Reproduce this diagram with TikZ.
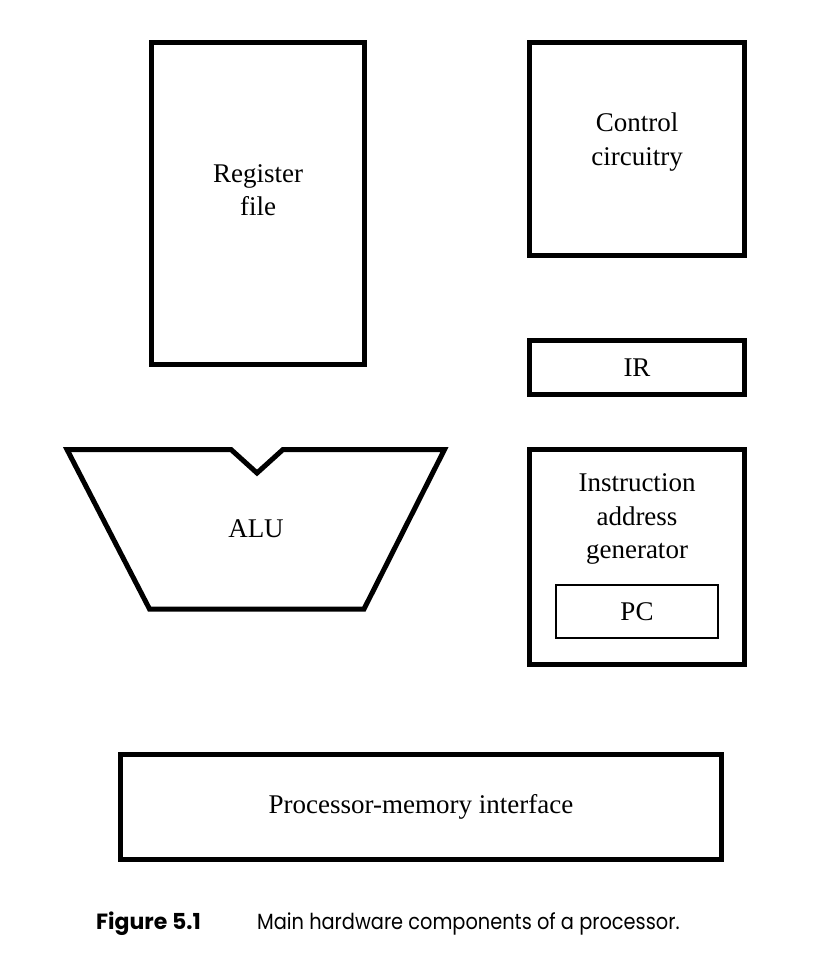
\documentclass[tikz,border=0pt]{standalone}
\usepackage{fontspec}
\setmainfont{Liberation Serif}
\newfontfamily\capfont[FakeStretch=0.88]{Poppins}
\newfontfamily\capboldfont{Poppins}
\begin{document}
\begin{tikzpicture}[x=1pt,y=-1pt,
  txt/.style={font=\fontsize{27}{33.5}\selectfont,align=center,inner sep=0pt},
  blk/.style={draw,line width=5pt,inner sep=0pt,minimum width=215pt},
  thinblk/.style={draw,line width=1.4pt,inner sep=0pt},
  capstyle/.style={inner sep=0pt,font=\capfont\fontsize{22}{26}\selectfont},
  capbold/.style={inner sep=0pt,font=\capboldfont\bfseries\fontsize{22}{26}\selectfont}]
\useasboundingbox (0,0) rectangle (839,961);
% register file
\node[blk,minimum width=213pt,minimum height=322pt] (reg) at (258,203.5) {};
\node[txt] (regt) at (258,190) {Register\\file};
% control circuitry
\node[blk,minimum height=213pt] (ctrl) at (637,149) {};
\node[txt] (ctrlt) at (637,142) {Control\\circuitry};
% IR
\node[blk,minimum height=54pt,txt] (ir) at (637,367.5) {IR};
% instruction address generator
\node[blk,minimum height=215pt] (iag) at (637,557) {};
\node[txt] (iagt) at (637,519) {Instruction\\address\\generator};
\node[thinblk,minimum width=162pt,minimum height=53pt,txt] (pc) at (637,611.5) {PC};
% ALU
\draw[line width=5pt,line join=miter]
  (67,449.5) -- (231,449.5) -- (257,473) -- (283,449.5) -- (444.5,449.5)
  -- (364,609) -- (149.5,609) -- cycle;
\node[txt] (alu) at (256,529) {ALU};
% processor-memory interface
\node[blk,minimum width=601pt,minimum height=105pt,txt] (pmi) at (421,807) {Processor-memory interface};
% caption
\node[capbold,anchor=base east] (fig) at (201,929) {Figure 5.1};
\node[capstyle,anchor=base west] (cap) at (257,929) {Main hardware components of a processor.};
\end{tikzpicture}
\end{document}
